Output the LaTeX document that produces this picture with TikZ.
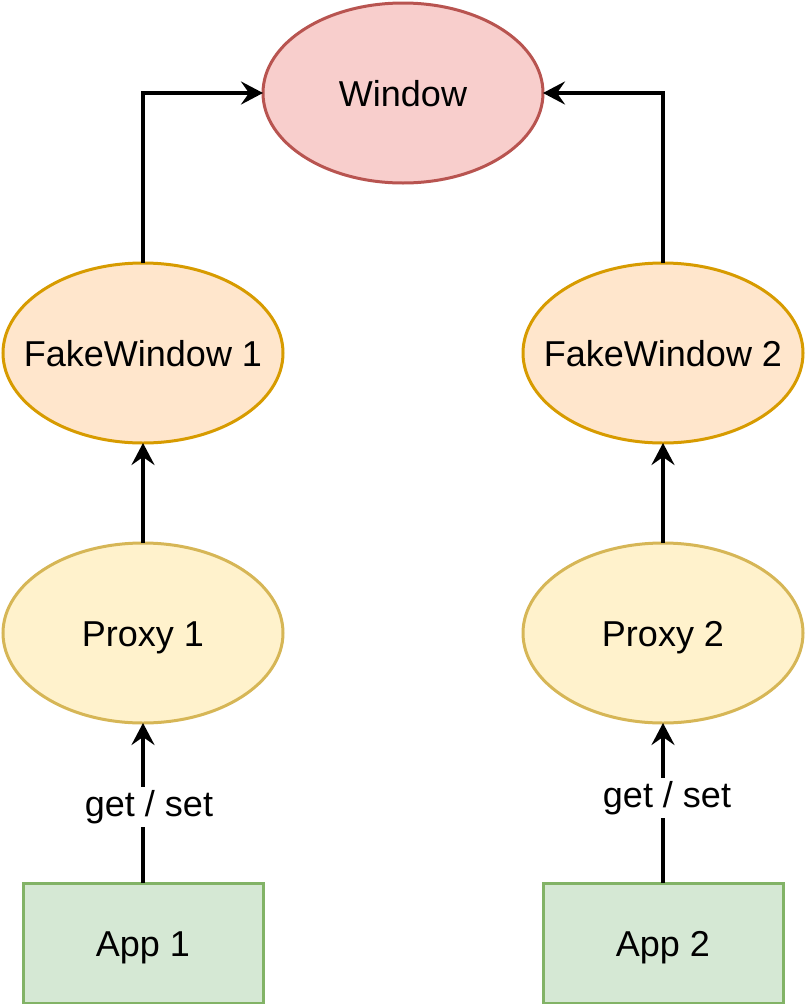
\documentclass[tikz,border=0pt]{standalone}
\usepackage{fontspec}
\setmainfont{Liberation Sans}
\usetikzlibrary{arrows.meta,shapes.geometric}
\definecolor{winfill}{HTML}{F8CECC}
\definecolor{windraw}{HTML}{B85450}
\definecolor{fakefill}{HTML}{FFE6CC}
\definecolor{fakedraw}{HTML}{D79B00}
\definecolor{proxfill}{HTML}{FFF2CC}
\definecolor{proxdraw}{HTML}{D6B656}
\definecolor{appfill}{HTML}{D5E8D4}
\definecolor{appdraw}{HTML}{82B366}
\tikzset{
  base/.style={font=\fontsize{36}{43}\selectfont, inner sep=0pt, outer sep=0pt, line width=3pt, text height=26pt, text depth=0pt},
  ell/.style={base, ellipse, inner xsep=-40pt, minimum width=280pt, minimum height=180pt},
  winnode/.style={ell, fill=winfill, draw=windraw},
  fakenode/.style={ell, fill=fakefill, draw=fakedraw},
  proxnode/.style={ell, fill=proxfill, draw=proxdraw},
  appnode/.style={base, rectangle, minimum width=240pt, minimum height=120pt, fill=appfill, draw=appdraw},
  conn/.style={line width=3.5pt, -{Stealth[length=22pt, width=23pt, inset=8pt]}},
  lbl/.style={font=\fontsize{36}{43}\selectfont, fill=white, inner sep=3pt, text height=26pt, text depth=8pt}
}
\begin{document}
\begin{tikzpicture}[x=1pt, y=-1pt]
\useasboundingbox (0,0) rectangle (804,1004);
\node[winnode] (win) at (403,93) {Window};
\node[fakenode] (fw1) at (143,353) {FakeWindow 1};
\node[fakenode] (fw2) at (663,353) {FakeWindow 2};
\node[proxnode] (px1) at (143,633) {Proxy 1};
\node[proxnode] (px2) at (663,633) {Proxy 2};
\node[appnode] (app1) at (143,943) {App 1};
\node[appnode] (app2) at (663,943) {App 2};
\draw[conn] (app1.north) -- (px1.south);
\draw[conn] (app2.north) -- (px2.south);
\draw[conn] (px1.north) -- (fw1.south);
\draw[conn] (px2.north) -- (fw2.south);
\draw[conn] (fw1.north) |- (win.west);
\draw[conn] (fw2.north) |- (win.east);
\node[lbl] (l1) at (149,807) {get / set};
\node[lbl] (l2) at (667,798) {get / set};
\end{tikzpicture}
\end{document}
